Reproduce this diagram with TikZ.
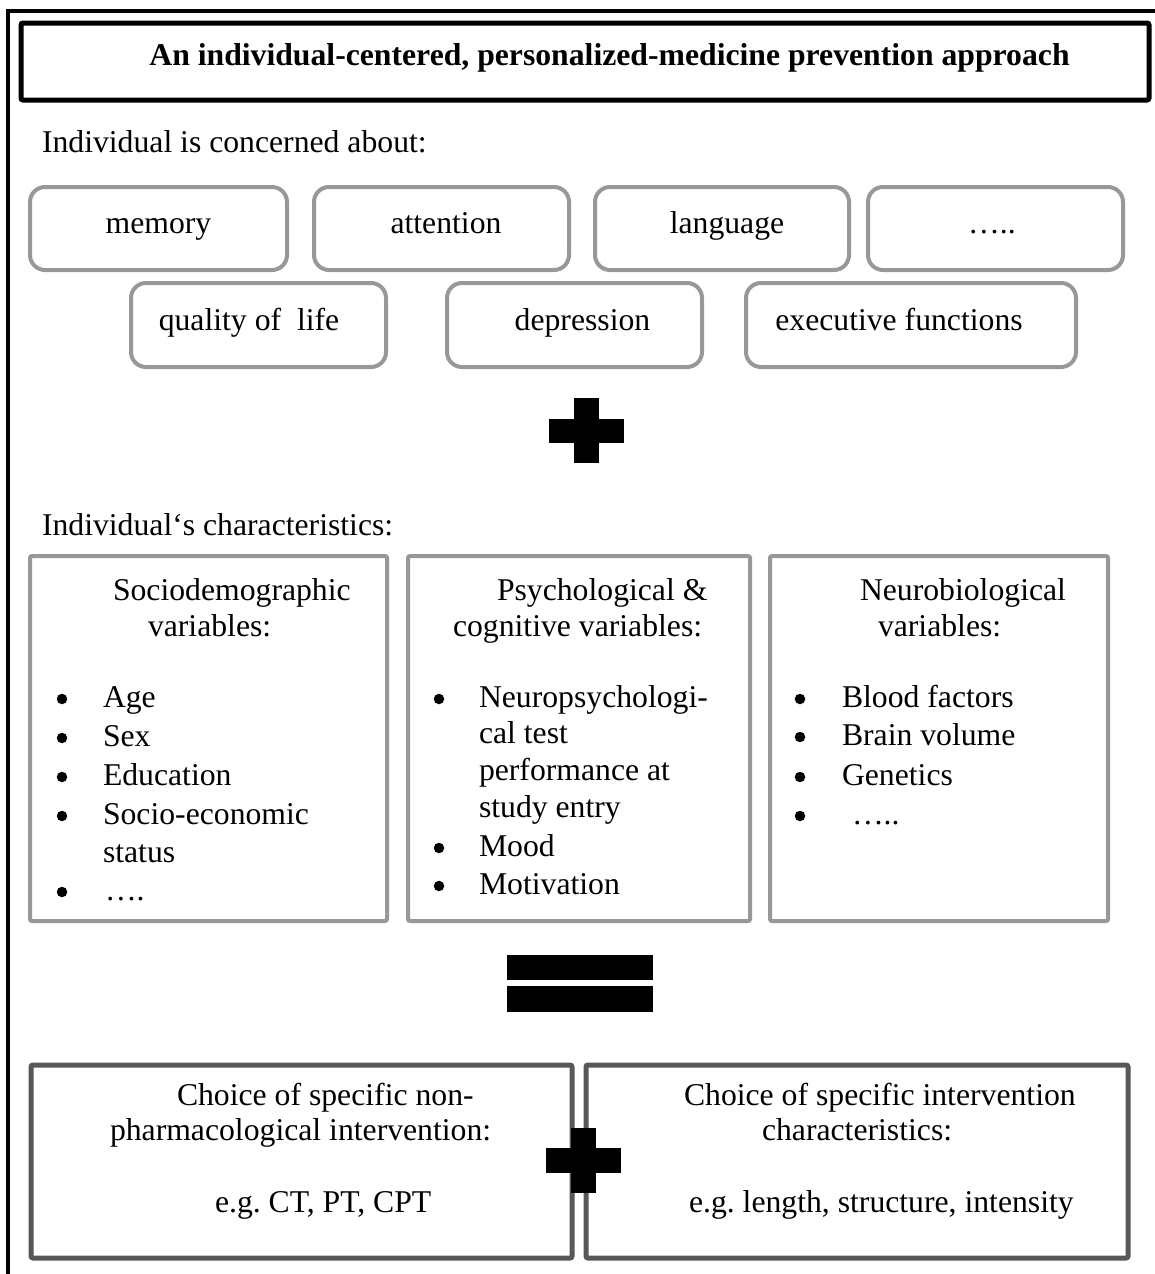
\documentclass[tikz,border=0pt]{standalone}
\usepackage{fontspec}
\setmainfont{Liberation Serif}
\usetikzlibrary{fit}
\definecolor{lg}{RGB}{152,152,152}
\definecolor{dg}{RGB}{88,88,88}
\frenchspacing
\begin{document}
\begin{tikzpicture}[x=1pt,y=-1pt,
  every node/.style={font=\fontsize{31.7}{38.5}\selectfont, inner sep=0pt, outer sep=0pt},
  rbox/.style={draw=lg, line width=4pt, rounded corners=15pt},
  cbox/.style={draw=lg, line width=4pt, rounded corners=2pt},
  bbox/.style={draw=dg, line width=5pt, rounded corners=2pt},
  lbl/.style={anchor=base west},
  ctr/.style={anchor=base},
  blt/.style={circle, fill=black, minimum size=10.5pt}]
\useasboundingbox (0,0) rectangle (1155,1274);
\clip (0,0) rectangle (1155,1274);
\fill[white] (0,0) rectangle (1155,1274);
% outer frame (runs off the page at right and bottom)
\node[fit={(8,11) (1180,1300)}, draw, line width=4pt] (frame) {};
% title
\node[fit={(21,23) (1149,100)}, draw, line width=5pt, rounded corners=2pt] (titlebox) {};
\node[ctr, font=\fontsize{31.7}{38.5}\selectfont\bfseries] (title) at (609.5,65) {An individual-centered, personalized-medicine prevention approach};
% concerns
\node[lbl] (concern) at (42,152) {Individual is concerned about:};
\node[rbox, fit={(30,187) (287,270)}] (memoryB) {};
\node[rbox, fit={(314,187) (569,270)}] (attentionB) {};
\node[rbox, fit={(595,187) (849,270)}] (languageB) {};
\node[rbox, fit={(868,187) (1123,270)}] (moreB) {};
\node[rbox, fit={(131,283) (386,367)}] (qualityB) {};
\node[rbox, fit={(447,283) (702,367)}] (depressionB) {};
\node[rbox, fit={(746,283) (1076,367)}] (execB) {};
\node[ctr] (memory) at (158.5,233) {memory};
\node[ctr] (attention) at (446,233) {attention};
\node[ctr] (language) at (727,233) {language};
\node[ctr] (more) at (992,233) {…..};
\node[ctr] (quality) at (249,330) {quality of\ \ life};
\node[ctr] (depression) at (582.5,330) {depression};
\node[ctr] (exec) at (899,330) {executive functions};
% plus
\fill (549,419) rectangle (624,443);
\fill (574,398) rectangle (599,463);
% characteristics
\node[lbl] (charhead) at (42,535) {Individual‘s characteristics:};
\node[cbox, fit={(30,556) (387,921)}] (socioB) {};
\node[cbox, fit={(408,556) (750,921)}] (psychB) {};
\node[cbox, fit={(770,556) (1108,921)}] (neuroB) {};
% box 1
\node[lbl] (s1) at (113,600) {Sociodemographic};
\node[lbl] (s2) at (148,636) {variables:};
\node[blt] (sb1) at (62,699) {};
\node[lbl] (sa) at (103,707) {Age};
\node[blt] (sb2) at (62,738) {};
\node[lbl] (sb) at (103,746) {Sex};
\node[blt] (sb3) at (62,777) {};
\node[lbl] (sc) at (103,785) {Education};
\node[blt] (sb4) at (62,816) {};
\node[lbl] (sd) at (103,824) {Socio-economic};
\node[lbl] (sd2) at (103,862) {status};
\node[blt] (sb5) at (62,892) {};
\node[lbl] (se) at (105,900) {….};
% box 2
\node[lbl] (p1) at (497,600) {Psychological \&};
\node[lbl] (p2) at (453,636) {cognitive variables:};
\node[blt] (pb1) at (439,699) {};
\node[lbl] (pa) at (479,707) {Neuropsychologi-};
\node[lbl] (pa2) at (479,743) {cal test};
\node[lbl] (pa3) at (479,780) {performance at};
\node[lbl] (pa4) at (479,817) {study entry};
\node[blt] (pb2) at (439,848) {};
\node[lbl] (pb) at (479,856) {Mood};
\node[blt] (pb3) at (439,886) {};
\node[lbl] (pc) at (479,894) {Motivation};
% box 3
\node[lbl] (n1) at (860,600) {Neurobiological};
\node[lbl] (n2) at (878,636) {variables:};
\node[blt] (nb1) at (800,699) {};
\node[lbl] (na) at (842,707) {Blood factors};
\node[blt] (nb2) at (800,737) {};
\node[lbl] (nb) at (842,745) {Brain volume};
\node[blt] (nb3) at (800,777) {};
\node[lbl] (nc) at (842,785) {Genetics};
\node[blt] (nb4) at (800,816) {};
\node[lbl] (nd) at (852,824) {…..};
% equals
\fill (507,955) rectangle (653,980);
\fill (507,986) rectangle (653,1012);
% bottom boxes
\node[bbox, fit={(31,1065) (572,1258)}] (nonpharmB) {};
\node[bbox, fit={(586,1065) (1128,1258)}] (charB) {};
\node[lbl] (c1) at (177,1105) {Choice of specific non-};
\node[lbl] (c2) at (110,1140) {pharmacological intervention:};
\node[lbl] (c3) at (215,1212) {e.g. CT, PT, CPT};
\node[lbl] (d1) at (684,1105) {Choice of specific intervention};
\node[lbl] (d2) at (762,1140) {characteristics:};
\node[lbl] (d3) at (689,1212) {e.g. length, structure, intensity};
% plus over bottom boxes
\fill (546,1148) rectangle (621,1173);
\fill (571,1128) rectangle (596,1193);
\end{tikzpicture}
\end{document}
